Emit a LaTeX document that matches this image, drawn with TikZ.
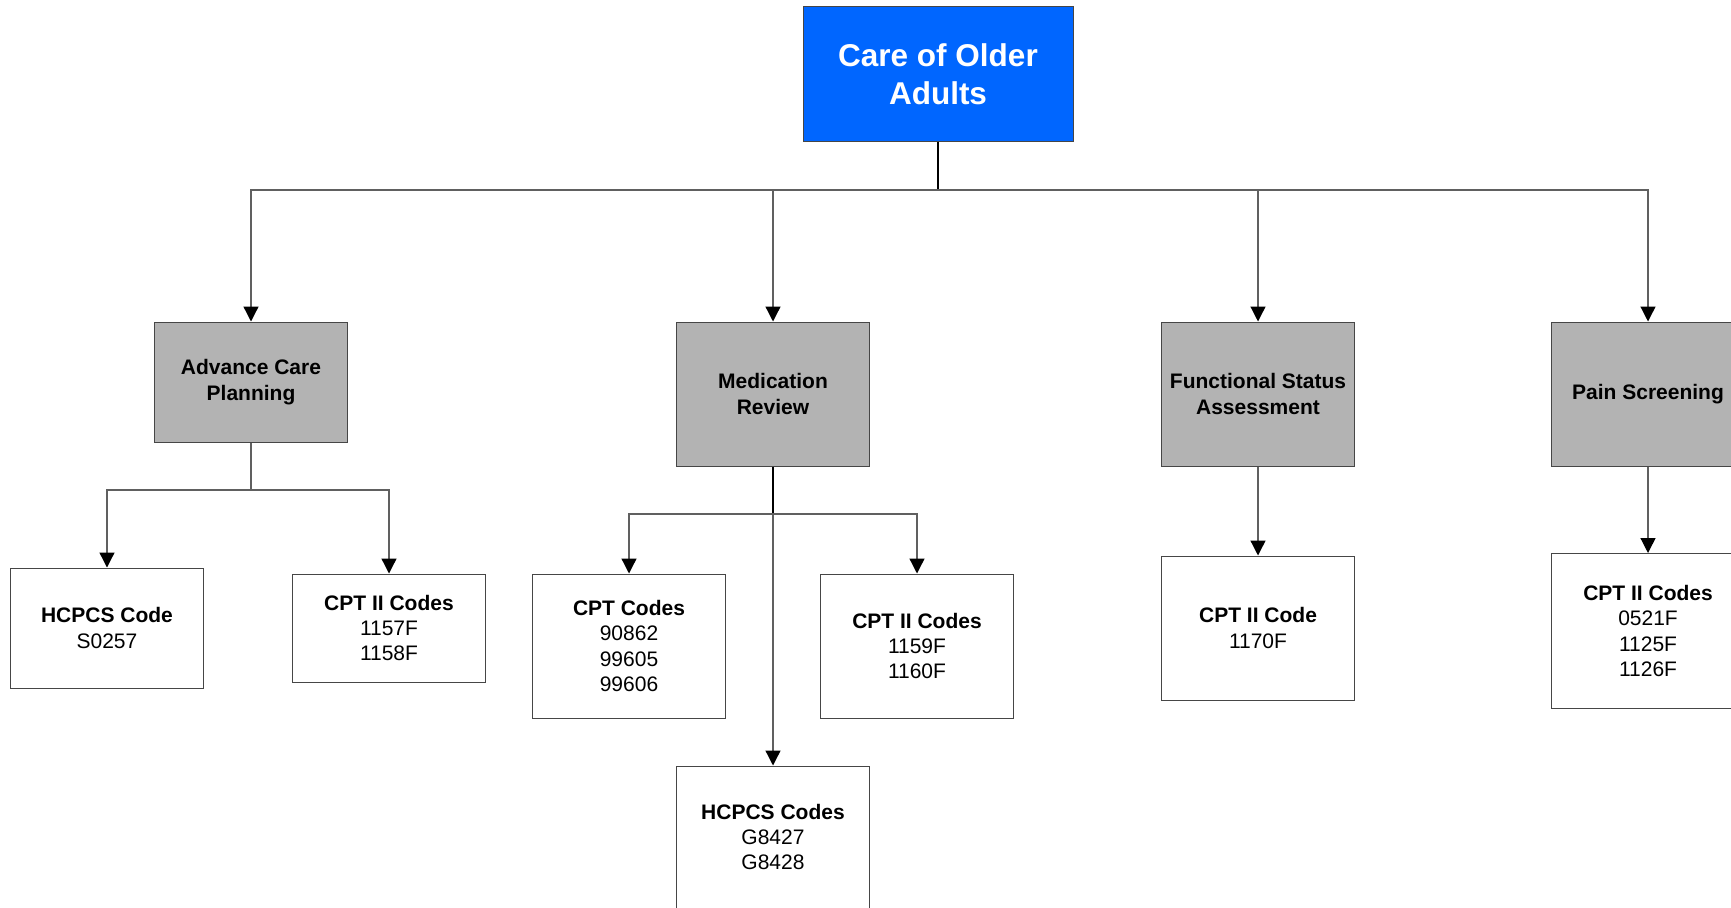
\documentclass[tikz,border=0pt]{standalone}
\usepackage{fontspec}
\setmainfont{Liberation Sans}
\usepackage{tikz}
\usetikzlibrary{arrows.meta, positioning}

\definecolor{rootblue}{RGB}{0,102,255}
\definecolor{catgray}{RGB}{179,179,179}
\definecolor{edgegray}{RGB}{70,70,70}
\definecolor{linegray}{RGB}{96,96,96}

\begin{document}
\begin{tikzpicture}[x=1pt, y=-1pt,
    rootbox/.style={draw=edgegray, line width=1pt, fill=rootblue, text=white, align=center,
        minimum width=270pt, minimum height=135pt,
        font=\fontsize{31.5}{37.5}\selectfont\bfseries},
    catbox/.style={draw=edgegray, line width=1pt, fill=catgray, align=center,
        minimum width=193pt, minimum height=144pt,
        font=\fontsize{21}{25.4}\selectfont\bfseries},
    codebox/.style={draw=edgegray, line width=1pt, fill=white, align=center,
        minimum width=193pt, minimum height=144pt,
        font=\fontsize{21}{25.4}\selectfont},
    conn/.style={draw=linegray, line width=1.3pt, -{Triangle[width=15pt,length=15pt,fill=black,color=black]}},
    link/.style={draw=linegray, line width=1.3pt}]
    \useasboundingbox (0,0) rectangle (1731,907);
    \node[rootbox] (root) at (938,74) {Care of Older\\Adults};
    \node[catbox, minimum height=120pt] (acp) at (251,382) {Advance Care\\Planning};
    \node[catbox] (mr) at (773,394) {Medication\\Review};
    \node[catbox] (fsa) at (1258,394) {Functional Status\\Assessment};
    \node[catbox] (ps) at (1648,394) {Pain Screening};
    \node[codebox, minimum height=120pt] (acpH) at (107,628) {\textbf{HCPCS Code}\\S0257};
    \node[codebox, minimum height=108pt] (acpC) at (389,628) {\textbf{CPT II Codes}\\1157F\\1158F};
    \node[codebox] (mrC) at (629,646) {\textbf{CPT Codes}\\90862\\99605\\99606};
    \node[codebox] (mrC2) at (917,646) {\textbf{CPT II Codes}\\1159F\\1160F};
    \node[codebox, minimum height=142pt] (mrH) at (773,837) {\textbf{HCPCS Codes}\\G8427\\G8428};
    \node[codebox] (fsaC) at (1258,628) {\textbf{CPT II Code}\\1170F};
    \node[codebox, minimum height=155pt] (psC) at (1648,631) {\textbf{CPT II Codes}\\0521F\\1125F\\1126F};
    \coordinate (bus) at (938,190);
    \coordinate (acpbus) at (251,490);
    \coordinate (mrbus) at (773,514);
    \draw[black, line width=2pt] (root.south) -- (bus);
    \draw[conn] (bus) -| (acp.north);
    \draw[conn] (bus) -| (mr.north);
    \draw[conn] (bus) -| (fsa.north);
    \draw[conn] (bus) -| (ps.north);
    \draw[link] (acp.south) -- (acpbus);
    \draw[conn] (acpbus) -| (acpH.north);
    \draw[conn] (acpbus) -| (acpC.north);
    \draw[link, black, line width=2pt] (mr.south) -- (mrbus);
    \draw[conn] (mrbus) -| (mrC.north);
    \draw[conn] (mrbus) -| (mrC2.north);
    \draw[conn] (mrbus) -- (mrH.north);
    \draw[conn] (fsa.south) -- (fsaC.north);
    \draw[conn] (ps.south) -- (psC.north);
\end{tikzpicture}
\end{document}
